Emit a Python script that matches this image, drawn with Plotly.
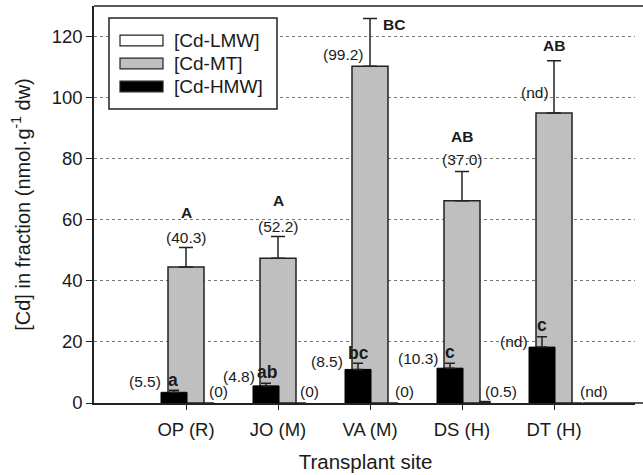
import plotly.graph_objects as go

# ---------------- data ----------------
sites = ["OP (R)", "JO (M)", "VA (M)", "DS (H)", "DT (H)"]
lmw_vals = [0.0, 0.0, 0.0, 0.5, 0.0]
mt_vals = [44.5, 47.4, 110.3, 66.2, 95.0]
mt_err = [6.4, 7.1, 15.6, 9.6, 17.1]
hmw_vals = [3.5, 5.6, 11.0, 11.4, 18.3]
hmw_err = [0.7, 0.9, 2.0, 1.6, 3.4]

mt_labels = ["(40.3)", "(52.2)", "(99.2)", "(37.0)", "(nd)"]
mt_letters = ["A", "A", "BC", "AB", "AB"]
hmw_labels = ["(5.5)", "(4.8)", "(8.5)", "(10.3)", "(nd)"]
hmw_letters = ["a", "ab", "bc", "c", "c"]
lmw_labels = ["(0)", "(0)", "(0)", "(0.5)", "(nd)"]

y_ticks = [0, 20, 40, 60, 80, 100, 120]

# ---------------- layout constants ----------------
W, H = 643, 475
ML, MR, MT_, MB = 94, 6, 6, 72
PW, PH = W - ML - MR, H - MT_ - MB
XR = [-1, -1 + PW / 92.0]
YR = [0, 130]
UX = 1 / 92.0  # data units per pixel (x)

FONT = "Liberation Sans, Arial, sans-serif"
TXT = "#1a1a1a"
LINE = "#222222"

x = list(range(len(sites)))

fig = go.Figure()

# grey MT bars (behind)
fig.add_trace(go.Bar(
    x=x, y=mt_vals, name="[Cd-MT]",
    offset=-18 * UX, width=36 * UX,
    marker=dict(color="#bfbfbf", line=dict(color=LINE, width=1.5)),
    error_y=dict(type="data", array=mt_err, arrayminus=[0] * 5, symmetric=False,
                 color=LINE, thickness=1.5, width=7),
    showlegend=False,
))
# white LMW bars
fig.add_trace(go.Bar(
    x=x, y=lmw_vals, name="[Cd-LMW]",
    offset=18 * UX, width=10 * UX,
    marker=dict(color="white", line=dict(color=LINE, width=1.5)),
    showlegend=False,
))
# black HMW bars (front)
fig.add_trace(go.Bar(
    x=x, y=hmw_vals, name="[Cd-HMW]",
    offset=-25 * UX, width=26 * UX,
    marker=dict(color="black", line=dict(color="black", width=1)),
    error_y=dict(type="data", array=hmw_err, arrayminus=[0] * 5, symmetric=False,
                 color=LINE, thickness=1.5, width=5),
    showlegend=False,
))

ann = []
# MT labels (shifts in px relative to top of error bar)
mt_lab_shift = [(0, 10), (0, 10), (-27, -36), (0, 11.7), (-19.5, -32)]
mt_let_shift = [(0, 34.7), (0, 35.7), (24, -6), (0, 34.7), (0, 15)]
for i in x:
    top = mt_vals[i] + mt_err[i]
    dx, dy = mt_lab_shift[i]
    ann.append(dict(x=i, y=top, text=mt_labels[i], xshift=dx, yshift=dy,
                    font=dict(size=15.5, color=TXT)))
    dx, dy = mt_let_shift[i]
    ann.append(dict(x=i, y=top, text="<b>" + mt_letters[i] + "</b>", xshift=dx, yshift=dy,
                    font=dict(size=15.5, color=TXT)))

# HMW labels (relative to HMW bar centre / error top)
hmw_lab_shift = [(-29.5, 8.3), (-27, 6.6), (-31.5, 1.6), (-32, 5), (-28.5, -5)]
hmw_let_shift = [(-1, 10.3), (1, 11.6), (0, 10), (0, 11.6), (0, 11.7)]
for i in x:
    top = hmw_vals[i] + hmw_err[i]
    dx, dy = hmw_lab_shift[i]
    ann.append(dict(x=i, y=top, text=hmw_labels[i], xshift=dx - 12, yshift=dy,
                    font=dict(size=15.5, color=TXT)))
    dx, dy = hmw_let_shift[i]
    ann.append(dict(x=i, y=top, text="<b>" + hmw_letters[i] + "</b>", xshift=dx - 12, yshift=dy,
                    font=dict(size=17.5, color=TXT)))

# LMW labels
lmw_xshift = [21, 20, 23, 21, 24]
for i in x:
    ann.append(dict(x=i, y=0, text=lmw_labels[i], xshift=lmw_xshift[i], yshift=11.3,
                    xanchor="left", font=dict(size=15.5, color=TXT)))

for a in ann:
    a.update(xref="x", yref="y", showarrow=False, yanchor="middle",
             **({} if "xanchor" in a else {"xanchor": "center"}))


# ---------------- manual legend / frame ----------------
def px(xp):
    return (xp - ML) / PW


def py(yp):
    return (H - MB - yp) / PH


shapes = [
    # blank strip at the far right (the frame is open on that side)
    dict(type="rect", xref="paper", yref="paper", x0=px(W - MR - 2), x1=px(W + 2),
         y0=-0.01, y1=1.01, line=dict(width=0), fillcolor="white", layer="above"),
    # top frame line and bottom axis line running to the right edge of the picture
    dict(type="line", xref="paper", yref="paper", x0=0, x1=px(W + 2), y0=1, y1=1,
         line=dict(color=LINE, width=1.5), layer="above"),
    dict(type="line", xref="paper", yref="paper", x0=0.9, x1=px(W + 2), y0=0, y1=0,
         line=dict(color=LINE, width=1.5), layer="above"),
    dict(type="rect", xref="paper", yref="paper",
         x0=px(109), x1=px(277), y0=py(109), y1=py(18),
         line=dict(color=LINE, width=1.5), fillcolor="white", layer="above"),
]
leg_names = ["[Cd-LMW]", "[Cd-MT]", "[Cd-HMW]"]
leg_cols = ["white", "#bfbfbf", "black"]
leg_y = [40.5, 63.5, 86.5]
for nm, col, yc in zip(leg_names, leg_cols, leg_y):
    shapes.append(dict(type="rect", xref="paper", yref="paper",
                       x0=px(120), x1=px(163), y0=py(yc + 5.3), y1=py(yc - 5.3),
                       line=dict(color=LINE, width=1.2), fillcolor=col, layer="above"))
    ann.append(dict(xref="paper", yref="paper", x=px(172), y=py(yc), text=nm,
                    xanchor="left", yanchor="middle", showarrow=False,
                    font=dict(size=19, color=TXT)))

fig.update_layout(
    width=W, height=H,
    margin=dict(l=ML, r=MR, t=MT_, b=MB, pad=0),
    barmode="overlay",
    plot_bgcolor="white", paper_bgcolor="white",
    font=dict(family=FONT, color=TXT),
    annotations=ann, shapes=shapes,
    showlegend=False,
)
fig.update_xaxes(
    range=XR, tickvals=x, ticktext=sites,
    showline=True, linecolor=LINE, linewidth=1.5, mirror=False,
    ticks="outside", ticklen=5, tickwidth=1.2, tickcolor=LINE,
    ticklabelstandoff=4,
    showgrid=False, zeroline=False,
    tickfont=dict(size=18.5, color=TXT),
    title=dict(text="Transplant site", font=dict(size=20.5, color=TXT), standoff=16),
)
fig.update_yaxes(
    range=YR, tickvals=y_ticks,
    showline=True, linecolor=LINE, linewidth=1.5,
    ticks="outside", ticklen=6, tickwidth=1.2, tickcolor=LINE,
    showgrid=True, gridcolor="#777777", griddash="dot", gridwidth=1,
    zeroline=False,
    tickfont=dict(size=18.5, color=TXT),
    title=dict(text="[Cd] in fraction (nmol·g<sup>-1</sup> dw)", font=dict(size=20, color=TXT), standoff=16),
)

fig.write_html("out.html")
